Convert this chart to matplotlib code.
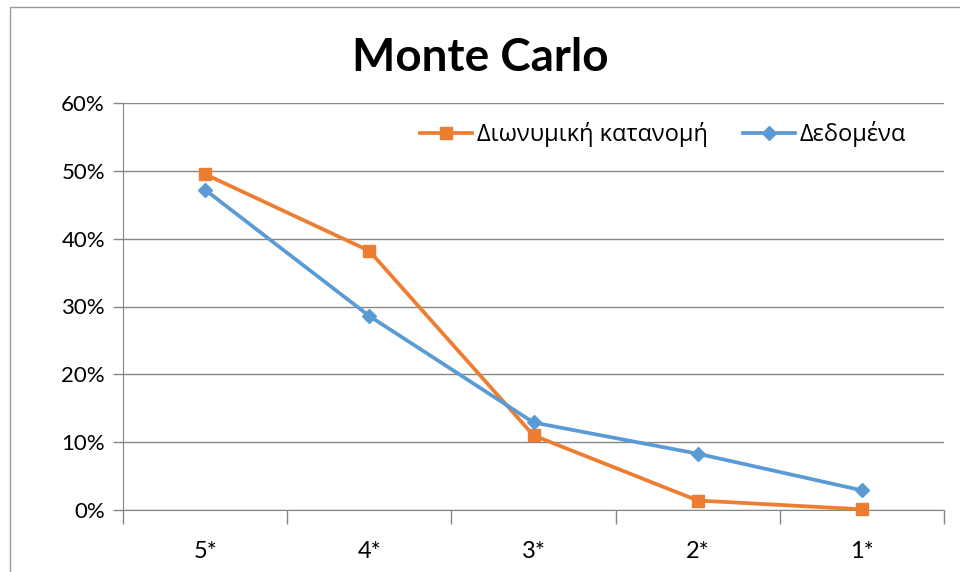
import matplotlib.pyplot as plt
from matplotlib.patches import Rectangle
from matplotlib.ticker import PercentFormatter

categories = ["5*", "4*", "3*", "2*", "1*"]
binomial = [49.5, 38.2, 11.0, 1.4, 0.1]
observed = [47.2, 28.6, 12.9, 8.3, 2.9]

orange = "#ED7D31"
blue = "#5B9BD5"
grid_col = "#868686"

fig = plt.figure(figsize=(9.6, 5.72), dpi=100)
ax = fig.add_axes([123 / 960, 62 / 572, 821 / 960, 407 / 572])

x = range(len(categories))
ax.plot(x, binomial, color=orange, lw=2.7, marker="s", ms=9,
        label="Διωνυμική κατανομή", clip_on=False, zorder=3)
ax.plot(x, observed, color=blue, lw=2.7, marker="D", ms=7,
        label="Δεδομένα", clip_on=False, zorder=3)

ax.set_xlim(-0.5, len(categories) - 0.5)
ax.set_ylim(0, 60)
ax.set_yticks(range(0, 61, 10))
ax.yaxis.set_major_formatter(PercentFormatter(decimals=0))
ax.set_xticks(list(x))
ax.set_xticklabels(categories)
ax.set_xticks([i - 0.5 for i in range(len(categories) + 1)], minor=True)
ax.tick_params(axis="x", which="major", length=0, pad=22, labelsize=17)
ax.tick_params(axis="x", which="minor", length=10, color=grid_col, width=1)
ax.tick_params(axis="y", length=7, color=grid_col, width=1, pad=6, labelsize=16)
for lab in ax.get_xticklabels() + ax.get_yticklabels():
    lab.set_fontfamily("Lato")

ax.grid(axis="y", color=grid_col, lw=1)
ax.set_axisbelow(True)
for s in ["top", "right"]:
    ax.spines[s].set_visible(False)
ax.spines["left"].set_color(grid_col)
ax.spines["bottom"].set_color(grid_col)

leg = ax.legend(loc="center", bbox_to_anchor=(0.658, 0.924), ncol=2,
                frameon=False, handlelength=2.2, handletextpad=0.2,
                columnspacing=1.5, prop={"family": ["Open Sans", "DejaVu Sans"], "size": 17})

fig.text(0.5, 1 - 58 / 572, "Monte Carlo", ha="center", va="center",
         fontsize=33, fontweight="bold", fontfamily="Lato")

fig.patches.append(Rectangle((10 / 960, -0.1), 1.2, 1 - 7 / 572 + 0.1,
                             transform=fig.transFigure, fill=False,
                             edgecolor="#9a9a9a", lw=1))

fig.savefig("out.png", dpi=100)
